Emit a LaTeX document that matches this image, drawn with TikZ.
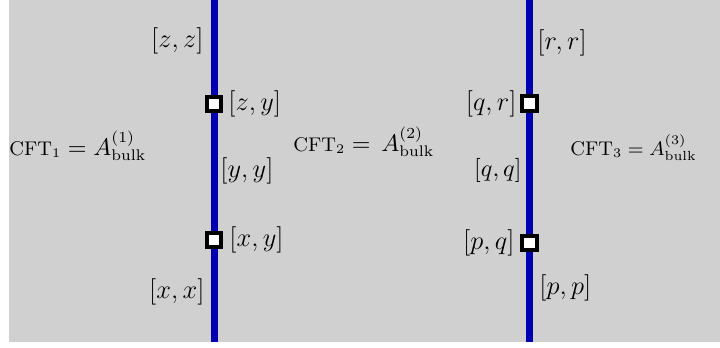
\documentclass[tikz,border=0pt]{standalone}
\usetikzlibrary{backgrounds}
\definecolor{bggray}{RGB}{208,208,208}
\definecolor{wireblue}{RGB}{0,0,178}
\newcommand{\cftsize}{\fontsize{9}{11}\selectfont}
\begin{document}
\begin{tikzpicture}[x=0.45455pt,y=-0.45455pt,
  wire/.style={draw=wireblue,line width=3.18pt},
  defect/.style={rectangle,draw=black,fill=white,line width=1.95pt,minimum size=6.6pt,inner sep=0pt},
  lab/.style={inner sep=0pt,font=\large},
  labb/.style={inner sep=0pt,font=\fontsize{12.7}{15}\selectfont},
  cft/.style={inner sep=0pt,anchor=base west,font=\fontsize{10.5}{12}\selectfont}]
\useasboundingbox (0,0) rectangle (720,347);
% wire end points
\coordinate (Ltop) at (214,0);
\coordinate (Lbot) at (214,342);
\coordinate (Rtop) at (529.5,0);
\coordinate (Rbot) at (529.5,342);
% defects
\node[defect] (zy) at (214,104) {};
\node[defect] (xy) at (214,240) {};
\node[defect] (qr) at (529.5,103.5) {};
\node[defect] (pq) at (529.5,243) {};
\begin{scope}[on background layer]
\fill[bggray] (9,0) rectangle (720,341.5);
\draw[wire] (Ltop) -- (zy) -- (xy) -- (Lbot);
\draw[wire] (Rtop) -- (qr) -- (pq) -- (Rbot);
\end{scope}
% labels on the left wire
\node[lab,anchor=east] (lzz) at (204,40.5) {$[z,z]$};
\node[labb,anchor=west] (lzy) at (228,104) {$[z,y]$};
\node[lab,anchor=west] (lyy) at (220,170.5) {$[y,y]$};
\node[labb,anchor=west] (lxy) at (229,240) {$[x,y]$};
\node[lab,anchor=east] (lxx) at (205,291.5) {$[x,x]$};
% labels on the right wire
\node[lab,anchor=west] (lrr) at (537,42.5) {$[r,r]$};
\node[lab,anchor=east] (lqr) at (517,104) {$[q,r]$};
\node[inner sep=0pt,font=\fontsize{11.3}{14}\selectfont,anchor=east] (lqq) at (522,170) {$[q,q]$};
\node[labb,anchor=east] (lpq) at (515,242.5) {$[p,q]$};
\node[labb,anchor=west] (lpp) at (539,288) {$[p,p]$};
% CFT regions
\node[cft] (c1) at (9,155) {{\cftsize CFT$_1$}${}= A^{(1)}_{\mathrm{bulk}}$};
\node[cft] (c2) at (293,151) {{\cftsize CFT$_2$}${}=\,A^{(2)}_{\mathrm{bulk}}$};
\node[cft,font=\cftsize] (c3) at (570,155) {CFT$_3 = A^{(3)}_{\mathrm{bulk}}$};
\end{tikzpicture}
\end{document}
